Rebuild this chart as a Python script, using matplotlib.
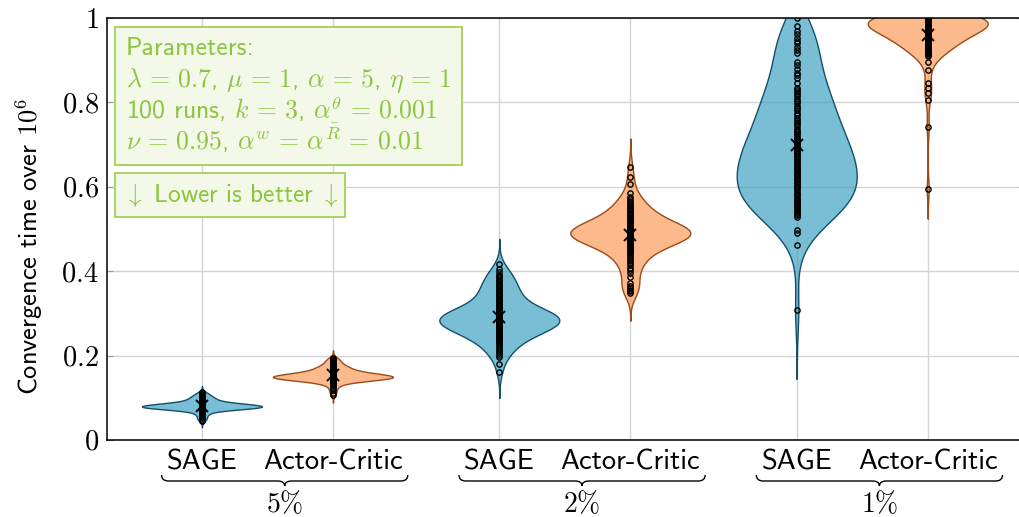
import numpy as np
import matplotlib
matplotlib.use("Agg")
import matplotlib.pyplot as plt
from matplotlib.patches import Rectangle, PathPatch
from matplotlib.path import Path

plt.rcParams['font.family'] = ['cmss10', 'DejaVu Sans']
plt.rcParams['mathtext.fontset'] = 'cm'
plt.rcParams['axes.unicode_minus'] = False

# convergence times (over 10^6 steps), 100 runs per method and threshold
sage_5 = [0.045, 0.048, 0.051, 0.054, 0.057, 0.060, 0.062, 0.064, 0.066, 0.068,
          0.070, 0.071, 0.071, 0.072, 0.072, 0.073, 0.073, 0.073, 0.074, 0.074,
          0.074, 0.075, 0.075, 0.075, 0.075, 0.076, 0.076, 0.076, 0.076, 0.077,
          0.077, 0.077, 0.077, 0.077, 0.078, 0.078, 0.078, 0.078, 0.078, 0.078,
          0.079, 0.079, 0.079, 0.079, 0.079, 0.079, 0.080, 0.080, 0.080, 0.080,
          0.080, 0.080, 0.081, 0.081, 0.081, 0.081, 0.081, 0.082, 0.082, 0.082,
          0.082, 0.083, 0.083, 0.083, 0.083, 0.084, 0.084, 0.084, 0.085, 0.085,
          0.085, 0.086, 0.086, 0.086, 0.087, 0.087, 0.087, 0.088, 0.088, 0.088,
          0.089, 0.090, 0.091, 0.092, 0.093, 0.094, 0.095, 0.096, 0.097, 0.098,
          0.099, 0.100, 0.101, 0.102, 0.104, 0.105, 0.107, 0.109, 0.111, 0.113]
ac_5 = [0.107, 0.112, 0.118, 0.123, 0.127, 0.130, 0.133, 0.135,
        0.137, 0.138, 0.139, 0.140, 0.140, 0.141, 0.141, 0.142, 0.142, 0.143,
        0.143, 0.143, 0.144, 0.144, 0.144, 0.145, 0.145, 0.145, 0.146, 0.146,
        0.146, 0.146, 0.147, 0.147, 0.147, 0.147, 0.148, 0.148, 0.148, 0.148,
        0.149, 0.149, 0.149, 0.149, 0.149, 0.150, 0.150, 0.150, 0.150, 0.150,
        0.151, 0.151, 0.151, 0.151, 0.152, 0.152, 0.152, 0.152, 0.153, 0.153,
        0.153, 0.154, 0.154, 0.154, 0.155, 0.155, 0.155, 0.156, 0.156, 0.157,
        0.157, 0.158, 0.158, 0.159, 0.159, 0.160, 0.160, 0.161, 0.161, 0.162,
        0.163, 0.164, 0.165, 0.166, 0.167, 0.168, 0.169, 0.170, 0.171, 0.172,
        0.173, 0.174, 0.175, 0.176, 0.178, 0.180,
        0.183, 0.185, 0.187, 0.190, 0.192, 0.194]
sage_2 = [0.160, 0.179, 0.197, 0.201, 0.206, 0.211, 0.216, 0.221, 0.226, 0.230,
          0.233, 0.236, 0.238, 0.240, 0.242, 0.244, 0.246, 0.248, 0.250, 0.252,
          0.255, 0.258,
          0.260, 0.261, 0.262, 0.263, 0.264, 0.265, 0.266, 0.267, 0.268, 0.269,
          0.270, 0.271, 0.272, 0.273, 0.274, 0.275, 0.276, 0.277, 0.278, 0.279,
          0.280, 0.281, 0.282, 0.283, 0.284, 0.285, 0.286, 0.287, 0.288, 0.289,
          0.290, 0.291, 0.292, 0.293, 0.294, 0.295, 0.296, 0.297, 0.298, 0.299,
          0.300, 0.301, 0.302, 0.303, 0.304, 0.305, 0.306, 0.307, 0.308, 0.309,
          0.312, 0.315, 0.318, 0.320, 0.323, 0.326, 0.329, 0.332, 0.335, 0.338,
          0.341, 0.344, 0.347, 0.349,
          0.352, 0.356, 0.360, 0.364, 0.368, 0.372, 0.376, 0.380, 0.384, 0.388,
          0.391, 0.398, 0.405, 0.416]
ac_2 = [0.349, 0.352, 0.356, 0.360, 0.365, 0.372,
        0.387, 0.395, 0.402, 0.408, 0.414, 0.420, 0.425, 0.430, 0.434, 0.438,
        0.442, 0.445, 0.448, 0.451, 0.453, 0.456, 0.458, 0.460, 0.462, 0.464,
        0.466, 0.468, 0.470, 0.471, 0.473, 0.474, 0.476, 0.477, 0.478, 0.479,
        0.480, 0.481, 0.482, 0.483, 0.484, 0.485, 0.486, 0.487, 0.488, 0.489,
        0.490, 0.491, 0.492, 0.493, 0.494, 0.495, 0.496, 0.497, 0.498, 0.499,
        0.500, 0.501, 0.502, 0.503, 0.504, 0.505, 0.506, 0.508, 0.509, 0.511,
        0.512, 0.514, 0.515, 0.517, 0.519, 0.521, 0.523, 0.525, 0.527, 0.529,
        0.532, 0.478, 0.483, 0.487, 0.491, 0.495, 0.482, 0.489,
        0.535, 0.538, 0.541, 0.544, 0.547, 0.550, 0.554, 0.558, 0.562, 0.567,
        0.572, 0.577, 0.586, 0.606, 0.624, 0.648]
sage_1 = [0.308, 0.462, 0.490, 0.498,
          0.529, 0.532, 0.536, 0.539, 0.542, 0.545, 0.547, 0.549,
          0.551, 0.554, 0.557, 0.560, 0.563, 0.566, 0.569, 0.572, 0.576, 0.580,
          0.584, 0.588, 0.592, 0.596,
          0.600, 0.603, 0.606, 0.609, 0.612, 0.615, 0.618, 0.621, 0.625, 0.628,
          0.632, 0.635, 0.639, 0.642, 0.645, 0.648,
          0.652, 0.655, 0.659, 0.662, 0.666, 0.670, 0.673, 0.677, 0.680, 0.684,
          0.688, 0.691, 0.695, 0.698,
          0.702, 0.706, 0.711, 0.715, 0.720, 0.724, 0.729, 0.733, 0.738, 0.743,
          0.748, 0.753, 0.758, 0.764, 0.769, 0.775, 0.781, 0.786, 0.792, 0.798,
          0.803, 0.808, 0.814, 0.819, 0.824, 0.829, 0.834, 0.846,
          0.858, 0.864, 0.870, 0.879, 0.888, 0.896,
          0.917, 0.925, 0.932, 0.940, 0.945,
          0.953, 0.961, 0.970, 0.980, 1.000]
# runs that never converged are capped at 1.0
ac_1 = [1.0] * 28 + [
        0.999, 0.998, 0.997, 0.996, 0.995, 0.994, 0.993, 0.992, 0.991, 0.990,
        0.989, 0.988, 0.987, 0.986, 0.985, 0.984, 0.983, 0.982, 0.981, 0.980,
        0.979, 0.978, 0.977, 0.976, 0.975, 0.974, 0.973, 0.972, 0.971, 0.970,
        0.985, 0.978,
        0.968, 0.966, 0.965, 0.963, 0.962, 0.960, 0.959, 0.957, 0.956, 0.954,
        0.953, 0.951, 0.950, 0.948, 0.947, 0.945, 0.944, 0.942, 0.941, 0.940,
        0.938, 0.935, 0.933, 0.930, 0.928, 0.925, 0.922, 0.920, 0.918, 0.915,
        0.913, 0.911,
        0.896, 0.877, 0.846, 0.835, 0.822, 0.806, 0.742, 0.595]

methods = ["SAGE", "Actor-Critic"]
groups = [r"$5\%$", r"$2\%$", r"$1\%$"]
runs = [sage_5, ac_5, sage_2, ac_2, sage_1, ac_1]
positions = [0, 1, 2.27, 3.27, 4.54, 5.54]

fills = [(0.25, 0.64, 0.77, 0.7), (0.98, 0.61, 0.36, 0.7)]
edges = ["#134f6c", "#9c4a17"]
half_width = 0.458

fig = plt.figure(figsize=(10.2, 5.17), dpi=100)
ax = fig.add_axes([107 / 1020, 1 - 440 / 517, 917 / 1020, 422 / 517])

for i, (vals, p) in enumerate(zip(runs, positions)):
    v = np.asarray(vals)
    # gaussian kde, scott bandwidth, tails cut at 3 bandwidths
    bw = v.std(ddof=1) * len(v) ** (-0.2)
    ys = np.linspace(v.min() - 3 * bw, v.max() + 3 * bw, 500)
    dens = np.exp(-0.5 * ((ys[:, None] - v[None, :]) / bw) ** 2).sum(axis=1)
    w = dens / dens.max() * half_width
    ax.fill_betweenx(ys, p - w, p + w, facecolor=fills[i % 2],
                     edgecolor=edges[i % 2], linewidth=1.0, zorder=2)
    ax.plot(np.full(len(v), p), v, 'o', mfc='none', mec='black',
            ms=3.8, mew=1.0, zorder=3)
    ax.plot(p, v.mean(), 'x', color='black', ms=8, mew=1.4, zorder=4)

ax.set_xlim(-0.725, 6.275)
ax.set_ylim(0, 1)
ax.set_xticks(positions)
ax.set_xticklabels(methods * 3, fontsize=20.5)
ax.set_yticks([0, 0.2, 0.4, 0.6, 0.8, 1])
ax.set_yticklabels([r"$0$", r"$0.2$", r"$0.4$", r"$0.6$", r"$0.8$", r"$1$"],
                   fontsize=20.5)
ax.tick_params(axis='x', length=0, pad=7)
ax.tick_params(axis='y', direction='in', length=4, color='#9a9a9a',
               right=True, pad=6)
ax.grid(True, color='#d4d4d4', linewidth=1.0)
ax.set_axisbelow(True)
for s in ax.spines.values():
    s.set_linewidth(1.1)

ax.set_ylabel(r"Convergence time over $10^6$", fontsize=19)
ax.yaxis.set_label_coords(-0.068, 0.46)

# parameter box and hint box
green = "#8cc63f"
box_face = "#f3f8e9"
box_edge = "#a8d462"
fig.add_artist(Rectangle((115 / 1020, 1 - 165 / 517), 347 / 1020, 138 / 517,
                         transform=fig.transFigure, facecolor=box_face,
                         edgecolor=box_edge, linewidth=1.4, zorder=5))
fig.add_artist(Rectangle((115 / 1020, 1 - 217 / 517), 230 / 1020, 44 / 517,
                         transform=fig.transFigure, facecolor=box_face,
                         edgecolor=box_edge, linewidth=1.4, zorder=5))
box_lines = [
    "Parameters:",
    r"$\lambda \,=\, 0.7$, $\mu \,=\, 1$, $\alpha \,=\, 5$, $\eta \,=\, 1$",
    r"100 runs, $k \,=\, 3$, $\alpha^\theta \,=\, 0.001$",
    r"$\nu \,=\, 0.95$, $\alpha^w \,=\, \alpha^{\bar{R}} \,=\, 0.01$",
]
baselines = [55, 87, 119, 150]
for txt, b in zip(box_lines, baselines):
    fig.text(126 / 1020, 1 - b / 517, txt, fontsize=18.6, color=green,
             va='baseline', ha='left', zorder=6)
fig.text(124 / 1020, 1 - 202 / 517,
         r"$\downarrow$ Lower is better $\downarrow$", fontsize=18.2,
         color=green, va='baseline', ha='left', zorder=6)

# curly braces grouping the method labels
fig.canvas.draw()
renderer = fig.canvas.get_renderer()
labels = ax.get_xticklabels()
W = fig.bbox.width
y_top, y_mid, y_tip = 1 - 475 / 517, 1 - 481 / 517, 1 - 486 / 517
r = 7 / 1020
for g in range(3):
    x0 = (labels[2 * g].get_window_extent(renderer).x0 - 5) / W
    x1 = (labels[2 * g + 1].get_window_extent(renderer).x1 + 5) / W
    xc = (x0 + x1) / 2
    verts = [(x0, y_top), (x0, y_mid), (x0 + r, y_mid), (xc - r, y_mid),
             (xc, y_mid), (xc, y_tip), (xc, y_mid), (xc + r, y_mid),
             (x1 - r, y_mid), (x1, y_mid), (x1, y_top)]
    codes = [Path.MOVETO, Path.CURVE3, Path.CURVE3, Path.LINETO,
             Path.CURVE3, Path.CURVE3, Path.CURVE3, Path.CURVE3,
             Path.LINETO, Path.CURVE3, Path.CURVE3]
    fig.add_artist(PathPatch(Path(verts, codes), transform=fig.transFigure,
                             facecolor='none', edgecolor='black', linewidth=1.0))
    fig.text(xc, 1 - 503 / 517, groups[g], fontsize=20, ha='center',
             va='center')

fig.savefig("out.png", dpi=100)
